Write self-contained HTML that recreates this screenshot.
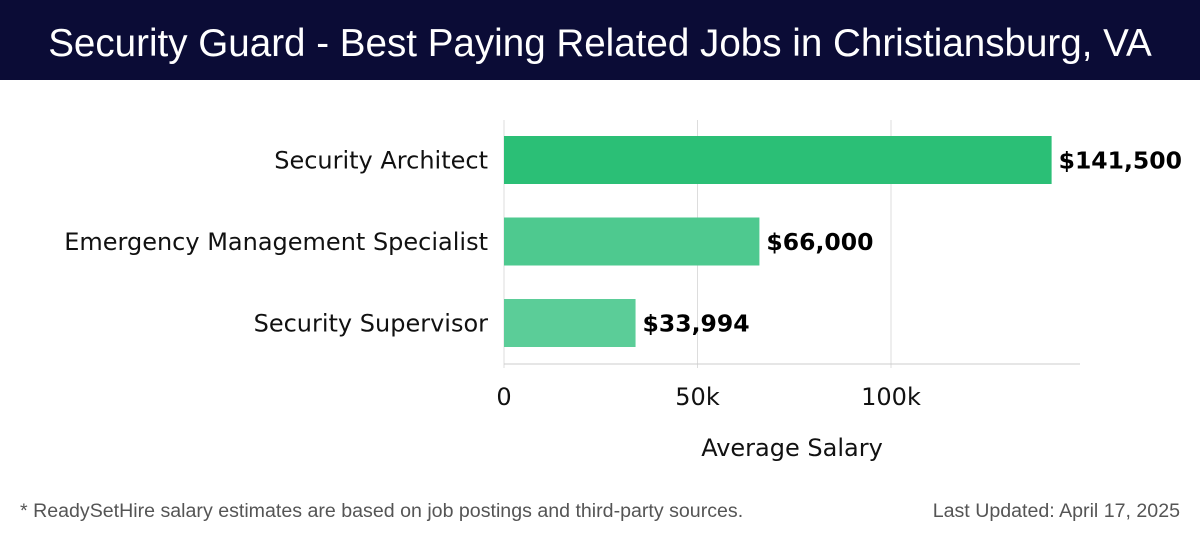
<!DOCTYPE html>
<html><head><meta charset="utf-8"><style>
body{margin:0;width:1200px;height:540px;background:#fff;overflow:hidden;font-family:"DejaVu Sans","Liberation Sans",sans-serif}
#title{position:absolute;left:0;top:0;width:1200px;height:80px;background:#0b0c36;color:#fff;font-family:"Liberation Sans",sans-serif;font-size:38.6px;text-align:center;line-height:88px}
.foot{position:absolute;top:500px;font-size:19.6px;color:#555;font-family:"Liberation Sans",sans-serif}
</style></head><body>
<div id="title">Security Guard - Best Paying Related Jobs in Christiansburg, VA</div>
<svg id="chart" width="1200" height="460" style="position:absolute;left:0;top:80px"></svg>
<div class="foot" style="left:20px">* ReadySetHire salary estimates are based on job postings and third-party sources.</div>
<div class="foot" style="right:20px">Last Updated: April 17, 2025</div>
<script>
const categories=["Security Architect","Emergency Management Specialist","Security Supervisor"];
const salaries=[141500,66000,33994];
const valueLabels=["$141,500","$66,000","$33,994"];
const tickValues=[0,50000,100000];
const tickLabels=["0","50k","100k"];
const colors=["#2bbf76","#4ec98f","#5bcd98"];
const NS="http://www.w3.org/2000/svg";
const svg=document.getElementById('chart');
const x0=504,pxPer=387/100000,oy=-80;
const x=v=>x0+v*pxPer;
const yc=i=>160+i*81.5+oy;
function mk(t,a){const e=document.createElementNS(NS,t);for(const k in a)e.setAttribute(k,a[k]);svg.appendChild(e);return e;}
tickValues.forEach((v,i)=>{
 const g=mk('line',{x1:x(v),x2:x(v),y1:120+oy,y2:368+oy,stroke:'#ddd','stroke-width':1});
 
 
 const t=mk('text',{x:x(v),y:405+oy,'text-anchor':'middle','font-size':24,fill:'#111'});
 t.textContent=tickLabels[i];
 
 
});
const ax=mk('line',{x1:x0,x2:1080,y1:364+oy,y2:364+oy,stroke:'#ccc','stroke-width':1});


categories.forEach((c,i)=>{
 const r=mk('rect',{x:x0,y:yc(i)-24,width:x(salaries[i])-x0,height:48,fill:colors[i]});
 
 
 const l=mk('text',{x:488,y:yc(i)+8.5,'text-anchor':'end','font-size':24,fill:'#111'});
 l.textContent=c;
 
 
 const v=mk('text',{x:x(salaries[i])+7,y:yc(i)+8.5,'font-size':23.5,'font-weight':'bold',fill:'#000'});
 v.textContent=valueLabels[i];
 
 
});
const xt=mk('text',{x:792,y:456+oy,'text-anchor':'middle','font-size':24,fill:'#111'});
xt.textContent='Average Salary';


</script>
</body></html>
